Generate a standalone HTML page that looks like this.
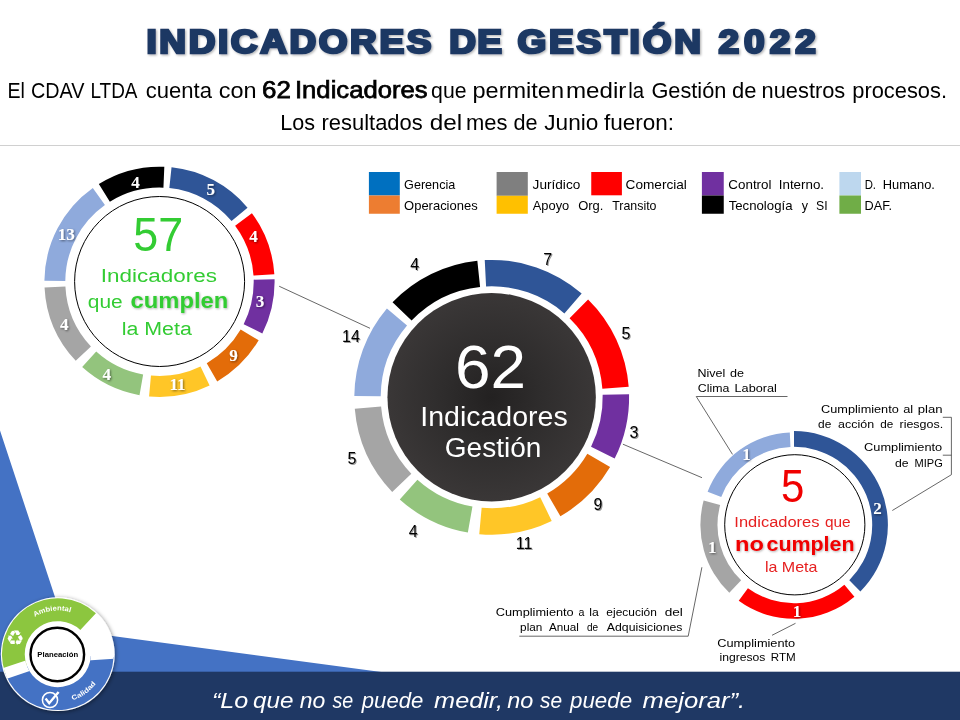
<!DOCTYPE html>
<html lang="es"><head><meta charset="utf-8"><title>Indicadores de Gestión 2022</title>
<style>
html,body{margin:0;padding:0;background:#fff;}
body{width:960px;height:720px;overflow:hidden;}
svg{display:block;}
text{white-space:pre;}
</style></head><body>
<svg width="960" height="720" viewBox="0 0 960 720">
<defs>
<radialGradient id="dark" cx="50%" cy="50%" r="50%"><stop offset="0" stop-color="#232121"/><stop offset="0.45" stop-color="#2E2C2C"/><stop offset="1" stop-color="#3A3737"/></radialGradient>
<filter id="tsh" x="-5%" y="-20%" width="110%" height="150%"><feDropShadow dx="1.2" dy="1.2" stdDeviation="1.0" flood-color="#000" flood-opacity="0.3"/></filter>
<filter id="lsh" x="-50%" y="-50%" width="200%" height="200%"><feDropShadow dx="1" dy="1" stdDeviation="0.8" flood-color="#000" flood-opacity="0.5"/></filter>
<filter id="dsh" x="-50%" y="-50%" width="200%" height="200%"><feDropShadow dx="1" dy="1" stdDeviation="0.7" flood-color="#000" flood-opacity="0.4"/></filter>
<filter id="gsh" x="-10%" y="-30%" width="120%" height="170%"><feDropShadow dx="0.8" dy="0.8" stdDeviation="0.8" flood-color="#000" flood-opacity="0.35"/></filter>
<filter id="logosh" x="-20%" y="-20%" width="140%" height="140%"><feDropShadow dx="1" dy="1" stdDeviation="2" flood-color="#000" flood-opacity="0.45"/></filter>
</defs>
<polygon points="0,430.5 65.8,629.8 385,672.5 0,672.5" fill="#4472C4"/>
<rect x="0" y="671.7" width="960" height="48.3" fill="#1F3864"/>
<line x1="0" y1="145.5" x2="960" y2="145.5" stroke="#D0D0D0" stroke-width="1"/>
<g filter="url(#tsh)">
<text transform="translate(146.46 53.3) scale(1.12 1)" x="0" y="0" font-family="'Liberation Sans', sans-serif" font-size="33" font-weight="bold" fill="#1F3864" stroke="#1F3864" stroke-width="2.6" stroke-linejoin="miter" textLength="254.36" lengthAdjust="spacing">INDICADORES</text>
<text transform="translate(449.26 53.3) scale(1.12 1)" x="0" y="0" font-family="'Liberation Sans', sans-serif" font-size="33" font-weight="bold" fill="#1F3864" stroke="#1F3864" stroke-width="2.6" stroke-linejoin="miter" textLength="47.08" lengthAdjust="spacing">DE</text>
<text transform="translate(517.48 53.3) scale(1.12 1)" x="0" y="0" font-family="'Liberation Sans', sans-serif" font-size="33" font-weight="bold" fill="#1F3864" stroke="#1F3864" stroke-width="2.6" stroke-linejoin="miter" textLength="163.91" lengthAdjust="spacing">GESTIÓN</text>
<text transform="translate(718.46 53.3) scale(1.12 1)" x="0" y="0" font-family="'Liberation Sans', sans-serif" font-size="33" font-weight="bold" fill="#1F3864" stroke="#1F3864" stroke-width="2.6" stroke-linejoin="miter" textLength="86.92" lengthAdjust="spacing">2022</text>
</g>
<text x="7.38" y="97.5" font-family="'Liberation Sans', sans-serif" font-size="22.4" fill="#000" text-anchor="start" font-weight="normal" font-style="normal" textLength="17.42" lengthAdjust="spacingAndGlyphs">El</text>
<text x="31.01" y="97.5" font-family="'Liberation Sans', sans-serif" font-size="22.4" fill="#000" text-anchor="start" font-weight="normal" font-style="normal" textLength="53.57" lengthAdjust="spacingAndGlyphs">CDAV</text>
<text x="90.43" y="97.5" font-family="'Liberation Sans', sans-serif" font-size="22.4" fill="#000" text-anchor="start" font-weight="normal" font-style="normal" textLength="47.1" lengthAdjust="spacingAndGlyphs">LTDA</text>
<text x="145.76" y="97.5" font-family="'Liberation Sans', sans-serif" font-size="22.4" fill="#000" text-anchor="start" font-weight="normal" font-style="normal" textLength="66.18" lengthAdjust="spacingAndGlyphs">cuenta</text>
<text x="218.7" y="97.5" font-family="'Liberation Sans', sans-serif" font-size="22.4" fill="#000" text-anchor="start" font-weight="normal" font-style="normal" textLength="37.82" lengthAdjust="spacingAndGlyphs">con</text>
<text x="431.1" y="97.5" font-family="'Liberation Sans', sans-serif" font-size="22.4" fill="#000" text-anchor="start" font-weight="normal" font-style="normal" textLength="35.43" lengthAdjust="spacingAndGlyphs">que</text>
<text x="472.47" y="97.5" font-family="'Liberation Sans', sans-serif" font-size="22.4" fill="#000" text-anchor="start" font-weight="normal" font-style="normal" textLength="91.52" lengthAdjust="spacingAndGlyphs">permiten</text>
<text x="565.93" y="97.5" font-family="'Liberation Sans', sans-serif" font-size="22.4" fill="#000" text-anchor="start" font-weight="normal" font-style="normal" textLength="60.45" lengthAdjust="spacingAndGlyphs">medir</text>
<text x="628.13" y="97.5" font-family="'Liberation Sans', sans-serif" font-size="22.4" fill="#000" text-anchor="start" font-weight="normal" font-style="normal" textLength="15.84" lengthAdjust="spacingAndGlyphs">la</text>
<text x="651.41" y="97.5" font-family="'Liberation Sans', sans-serif" font-size="22.4" fill="#000" text-anchor="start" font-weight="normal" font-style="normal" textLength="74.98" lengthAdjust="spacingAndGlyphs">Gestión</text>
<text x="732.07" y="97.5" font-family="'Liberation Sans', sans-serif" font-size="22.4" fill="#000" text-anchor="start" font-weight="normal" font-style="normal" textLength="24.42" lengthAdjust="spacingAndGlyphs">de</text>
<text x="761.58" y="97.5" font-family="'Liberation Sans', sans-serif" font-size="22.4" fill="#000" text-anchor="start" font-weight="normal" font-style="normal" textLength="83.69" lengthAdjust="spacingAndGlyphs">nuestros</text>
<text x="852.28" y="97.5" font-family="'Liberation Sans', sans-serif" font-size="22.4" fill="#000" text-anchor="start" font-weight="normal" font-style="normal" textLength="94.7" lengthAdjust="spacingAndGlyphs">procesos.</text>
<text x="262.08" y="97.5" font-family="'Liberation Sans', sans-serif" font-size="24.2" fill="#000" text-anchor="start" font-weight="normal" font-style="normal" textLength="28.84" lengthAdjust="spacingAndGlyphs" stroke="#000" stroke-width="0.75">62</text>
<text x="295.0" y="97.5" font-family="'Liberation Sans', sans-serif" font-size="24.2" fill="#000" text-anchor="start" font-weight="normal" font-style="normal" textLength="132.52" lengthAdjust="spacingAndGlyphs" stroke="#000" stroke-width="0.75">Indicadores</text>
<text x="280.22" y="129.6" font-family="'Liberation Sans', sans-serif" font-size="22.4" fill="#000" text-anchor="start" font-weight="normal" font-style="normal" textLength="34.73" lengthAdjust="spacingAndGlyphs">Los</text>
<text x="321.57" y="129.6" font-family="'Liberation Sans', sans-serif" font-size="22.4" fill="#000" text-anchor="start" font-weight="normal" font-style="normal" textLength="101.17" lengthAdjust="spacingAndGlyphs">resultados</text>
<text x="429.77" y="129.6" font-family="'Liberation Sans', sans-serif" font-size="22.4" fill="#000" text-anchor="start" font-weight="normal" font-style="normal" textLength="32.46" lengthAdjust="spacingAndGlyphs">del</text>
<text x="465.97" y="129.6" font-family="'Liberation Sans', sans-serif" font-size="22.4" fill="#000" text-anchor="start" font-weight="normal" font-style="normal" textLength="41.48" lengthAdjust="spacingAndGlyphs">mes</text>
<text x="513.38" y="129.6" font-family="'Liberation Sans', sans-serif" font-size="22.4" fill="#000" text-anchor="start" font-weight="normal" font-style="normal" textLength="24.09" lengthAdjust="spacingAndGlyphs">de</text>
<text x="544.26" y="129.6" font-family="'Liberation Sans', sans-serif" font-size="22.4" fill="#000" text-anchor="start" font-weight="normal" font-style="normal" textLength="54.06" lengthAdjust="spacingAndGlyphs">Junio</text>
<text x="603.92" y="129.6" font-family="'Liberation Sans', sans-serif" font-size="22.4" fill="#000" text-anchor="start" font-weight="normal" font-style="normal" textLength="70.03" lengthAdjust="spacingAndGlyphs">fueron:</text>
<rect x="368.9" y="172" width="30.90" height="23.50" fill="#0070C0"/>
<rect x="368.9" y="195.5" width="30.90" height="18.25" fill="#ED7D31"/>
<rect x="496.6" y="172" width="31.20" height="23.80" fill="#7F7F7F"/>
<rect x="496.6" y="195.8" width="31.20" height="17.95" fill="#FFC000"/>
<rect x="591.25" y="172" width="30.65" height="23.30" fill="#FF0000"/>
<rect x="701.9" y="172" width="21.85" height="23.50" fill="#7030A0"/>
<rect x="701.9" y="195.5" width="21.85" height="18.25" fill="#000000"/>
<rect x="839.4" y="172" width="21.60" height="23.50" fill="#BDD7EE"/>
<rect x="839.4" y="195.5" width="21.60" height="18.25" fill="#70AD47"/>
<text x="404.07" y="188.75" font-family="'Liberation Sans', sans-serif" font-size="13" fill="#000" text-anchor="start" font-weight="normal" font-style="normal" textLength="51.2" lengthAdjust="spacingAndGlyphs">Gerencia</text>
<text x="404.08" y="210" font-family="'Liberation Sans', sans-serif" font-size="13" fill="#000" text-anchor="start" font-weight="normal" font-style="normal" textLength="73.57" lengthAdjust="spacingAndGlyphs">Operaciones</text>
<text x="532.6" y="188.75" font-family="'Liberation Sans', sans-serif" font-size="13" fill="#000" text-anchor="start" font-weight="normal" font-style="normal" textLength="47.67" lengthAdjust="spacingAndGlyphs">Jurídico</text>
<text x="532.77" y="210" font-family="'Liberation Sans', sans-serif" font-size="13" fill="#000" text-anchor="start" font-weight="normal" font-style="normal" textLength="36.5" lengthAdjust="spacingAndGlyphs">Apoyo</text>
<text x="578.13" y="210" font-family="'Liberation Sans', sans-serif" font-size="13" fill="#000" text-anchor="start" font-weight="normal" font-style="normal" textLength="25.23" lengthAdjust="spacingAndGlyphs">Org.</text>
<text x="612.22" y="210" font-family="'Liberation Sans', sans-serif" font-size="13" fill="#000" text-anchor="start" font-weight="normal" font-style="normal" textLength="44.28" lengthAdjust="spacingAndGlyphs">Transito</text>
<text x="625.57" y="188.75" font-family="'Liberation Sans', sans-serif" font-size="13" fill="#000" text-anchor="start" font-weight="normal" font-style="normal" textLength="61.33" lengthAdjust="spacingAndGlyphs">Comercial</text>
<text x="728.33" y="188.75" font-family="'Liberation Sans', sans-serif" font-size="13" fill="#000" text-anchor="start" font-weight="normal" font-style="normal" textLength="43.16" lengthAdjust="spacingAndGlyphs">Control</text>
<text x="778.77" y="188.75" font-family="'Liberation Sans', sans-serif" font-size="13" fill="#000" text-anchor="start" font-weight="normal" font-style="normal" textLength="45.25" lengthAdjust="spacingAndGlyphs">Interno.</text>
<text x="728.7" y="210" font-family="'Liberation Sans', sans-serif" font-size="13" fill="#000" text-anchor="start" font-weight="normal" font-style="normal" textLength="63.79" lengthAdjust="spacingAndGlyphs">Tecnología</text>
<text x="801.87" y="210" font-family="'Liberation Sans', sans-serif" font-size="13" fill="#000" text-anchor="start" font-weight="normal" font-style="normal" textLength="6.26" lengthAdjust="spacingAndGlyphs">y</text>
<text x="816.05" y="210" font-family="'Liberation Sans', sans-serif" font-size="13" fill="#000" text-anchor="start" font-weight="normal" font-style="normal" textLength="11.58" lengthAdjust="spacingAndGlyphs">SI</text>
<text x="864.66" y="188.75" font-family="'Liberation Sans', sans-serif" font-size="13" fill="#000" text-anchor="start" font-weight="normal" font-style="normal" textLength="11.36" lengthAdjust="spacingAndGlyphs">D.</text>
<text x="882.69" y="188.75" font-family="'Liberation Sans', sans-serif" font-size="13" fill="#000" text-anchor="start" font-weight="normal" font-style="normal" textLength="52.22" lengthAdjust="spacingAndGlyphs">Humano.</text>
<text x="864.55" y="210" font-family="'Liberation Sans', sans-serif" font-size="13" fill="#000" text-anchor="start" font-weight="normal" font-style="normal" textLength="27.59" lengthAdjust="spacingAndGlyphs">DAF.</text>
<line x1="279.2" y1="286.25" x2="370" y2="328.3" stroke="#404040" stroke-width="0.8" fill="none"/>
<line x1="622.9" y1="444.2" x2="702" y2="477.7" stroke="#404040" stroke-width="0.8" fill="none"/>
<path d="M171.53 167.33A115.1 115.1 0 0 1 247.54 207.66L231.56 221.12A94.2 94.2 0 0 0 169.35 188.12Z" fill="#2F5597"/>
<path d="M251.90 213.17A115.1 115.1 0 0 1 274.35 274.17L253.49 275.56A94.2 94.2 0 0 0 235.13 225.64Z" fill="#FF0000"/>
<path d="M274.57 279.19A115.1 115.1 0 0 1 262.33 333.52L243.66 324.13A94.2 94.2 0 0 0 253.68 279.66Z" fill="#7030A0"/>
<path d="M258.67 340.22A115.1 115.1 0 0 1 217.22 381.38L206.74 363.30A94.2 94.2 0 0 0 240.67 329.61Z" fill="#E36C09"/>
<path d="M209.60 385.43A115.1 115.1 0 0 1 149.07 396.43L150.96 375.61A94.2 94.2 0 0 0 200.50 366.61Z" fill="#FFC627"/>
<path d="M139.51 395.15A115.1 115.1 0 0 1 82.18 367.07L96.22 351.58A94.2 94.2 0 0 0 143.14 374.57Z" fill="#93C47D"/>
<path d="M75.73 360.74A115.1 115.1 0 0 1 44.54 287.42L65.41 286.40A94.2 94.2 0 0 0 90.94 346.40Z" fill="#A5A5A5"/>
<path d="M44.40 280.80A115.1 115.1 0 0 1 92.82 187.98L104.93 205.01A94.2 94.2 0 0 0 65.30 280.98Z" fill="#8FAADC"/>
<path d="M98.85 183.98A115.1 115.1 0 0 1 164.32 166.80L163.44 187.68A94.2 94.2 0 0 0 109.86 201.74Z" fill="#000000"/>
<circle cx="159.6" cy="281.5" r="85" fill="#fff" stroke="#000" stroke-width="1"/>
<text x="210.8" y="194.95" font-family="'Liberation Serif', serif" font-size="17" fill="#fff" text-anchor="middle" font-weight="bold" font-style="normal" filter="url(#lsh)">5</text>
<text x="253.5" y="242.0" font-family="'Liberation Serif', serif" font-size="17" fill="#fff" text-anchor="middle" font-weight="bold" font-style="normal" filter="url(#lsh)">4</text>
<text x="260.1" y="306.65" font-family="'Liberation Serif', serif" font-size="17" fill="#fff" text-anchor="middle" font-weight="bold" font-style="normal" filter="url(#lsh)">3</text>
<text x="233.4" y="360.95" font-family="'Liberation Serif', serif" font-size="17" fill="#fff" text-anchor="middle" font-weight="bold" font-style="normal" filter="url(#lsh)">9</text>
<text x="177.6" y="389.95" font-family="'Liberation Serif', serif" font-size="17" fill="#fff" text-anchor="middle" font-weight="bold" font-style="normal" filter="url(#lsh)">11</text>
<text x="106.7" y="380.45" font-family="'Liberation Serif', serif" font-size="17" fill="#fff" text-anchor="middle" font-weight="bold" font-style="normal" filter="url(#lsh)">4</text>
<text x="64.2" y="330.45" font-family="'Liberation Serif', serif" font-size="17" fill="#fff" text-anchor="middle" font-weight="bold" font-style="normal" filter="url(#lsh)">4</text>
<text x="66.2" y="240.35" font-family="'Liberation Serif', serif" font-size="17" fill="#fff" text-anchor="middle" font-weight="bold" font-style="normal" filter="url(#lsh)">13</text>
<text x="135.4" y="188.15" font-family="'Liberation Serif', serif" font-size="17" fill="#fff" text-anchor="middle" font-weight="bold" font-style="normal" filter="url(#lsh)">4</text>
<text x="133.2" y="251.4" font-family="'Liberation Sans', sans-serif" font-size="47.2" fill="#33CC33" text-anchor="start" font-weight="normal" font-style="normal" textLength="49.93" lengthAdjust="spacingAndGlyphs">57</text>
<text x="100.82" y="281.8" font-family="'Liberation Sans', sans-serif" font-size="19.2" fill="#33CC33" text-anchor="start" font-weight="normal" font-style="normal" textLength="116.06" lengthAdjust="spacingAndGlyphs">Indicadores</text>
<text x="87.81" y="308" font-family="'Liberation Sans', sans-serif" font-size="19.2" fill="#33CC33" text-anchor="start" font-weight="normal" font-style="normal" textLength="34.9" lengthAdjust="spacingAndGlyphs">que</text>
<text x="130.61" y="308" font-family="'Liberation Sans', sans-serif" font-size="22.5" fill="#33CC33" text-anchor="start" font-weight="bold" font-style="normal" textLength="97.66" lengthAdjust="spacingAndGlyphs" filter="url(#gsh)">cumplen</text>
<text x="121.76" y="334.9" font-family="'Liberation Sans', sans-serif" font-size="19.2" fill="#33CC33" text-anchor="start" font-weight="normal" font-style="normal" textLength="70.03" lengthAdjust="spacingAndGlyphs">la Meta</text>
<path d="M484.75 260.08A137.4 137.4 0 0 1 581.66 293.45L564.38 313.40A111 111 0 0 0 486.08 286.44Z" fill="#2F5597"/>
<path d="M588.09 299.38A137.4 137.4 0 0 1 628.70 386.76L602.37 388.78A111 111 0 0 0 569.57 318.20Z" fill="#FF0000"/>
<path d="M629.06 394.18A137.4 137.4 0 0 1 614.66 458.61L591.04 446.83A111 111 0 0 0 602.67 394.78Z" fill="#7030A0"/>
<path d="M610.09 467.04A137.4 137.4 0 0 1 560.40 516.29L547.20 493.43A111 111 0 0 0 587.34 453.64Z" fill="#E36C09"/>
<path d="M551.72 520.90A137.4 137.4 0 0 1 479.25 534.13L481.64 507.84A111 111 0 0 0 540.18 497.15Z" fill="#FFC627"/>
<path d="M467.84 532.61A137.4 137.4 0 0 1 399.76 499.41L417.43 479.79A111 111 0 0 0 472.43 506.61Z" fill="#93C47D"/>
<path d="M392.20 492.05A137.4 137.4 0 0 1 354.78 408.80L381.09 406.59A111 111 0 0 0 411.32 473.85Z" fill="#A5A5A5"/>
<path d="M354.31 396.10A137.4 137.4 0 0 1 386.91 308.43L407.04 325.51A111 111 0 0 0 380.70 396.33Z" fill="#8FAADC"/>
<path d="M392.53 302.20A137.4 137.4 0 0 1 477.34 260.65L480.10 286.91A111 111 0 0 0 411.58 320.47Z" fill="#000000"/>
<circle cx="491.65" cy="397.25" r="104.2" fill="url(#dark)"/>
<text x="455.0" y="388.4" font-family="'Liberation Sans', sans-serif" font-size="62" fill="#fff" text-anchor="start" font-weight="normal" font-style="normal" textLength="71.08" lengthAdjust="spacingAndGlyphs">62</text>
<text x="420.26" y="426.2" font-family="'Liberation Sans', sans-serif" font-size="26.8" fill="#fff" text-anchor="start" font-weight="normal" font-style="normal" textLength="147.44" lengthAdjust="spacingAndGlyphs">Indicadores</text>
<text x="444.8" y="457.1" font-family="'Liberation Sans', sans-serif" font-size="26.8" fill="#fff" text-anchor="start" font-weight="normal" font-style="normal" textLength="96.59" lengthAdjust="spacingAndGlyphs">Gestión</text>
<text x="547.8" y="264.53" font-family="'Liberation Sans', sans-serif" font-size="16" fill="#000" text-anchor="middle" font-weight="normal" font-style="normal" filter="url(#dsh)">7</text>
<text x="626" y="338.53" font-family="'Liberation Sans', sans-serif" font-size="16" fill="#000" text-anchor="middle" font-weight="normal" font-style="normal" filter="url(#dsh)">5</text>
<text x="633.9" y="438.23" font-family="'Liberation Sans', sans-serif" font-size="16" fill="#000" text-anchor="middle" font-weight="normal" font-style="normal" filter="url(#dsh)">3</text>
<text x="598" y="510.03" font-family="'Liberation Sans', sans-serif" font-size="16" fill="#000" text-anchor="middle" font-weight="normal" font-style="normal" filter="url(#dsh)">9</text>
<text x="524.1" y="548.93" font-family="'Liberation Sans', sans-serif" font-size="16" fill="#000" text-anchor="middle" font-weight="normal" font-style="normal" filter="url(#dsh)">11</text>
<text x="413.1" y="537.03" font-family="'Liberation Sans', sans-serif" font-size="16" fill="#000" text-anchor="middle" font-weight="normal" font-style="normal" filter="url(#dsh)">4</text>
<text x="352" y="463.93" font-family="'Liberation Sans', sans-serif" font-size="16" fill="#000" text-anchor="middle" font-weight="normal" font-style="normal" filter="url(#dsh)">5</text>
<text x="350.9" y="342.23" font-family="'Liberation Sans', sans-serif" font-size="16" fill="#000" text-anchor="middle" font-weight="normal" font-style="normal" filter="url(#dsh)">14</text>
<text x="414.8" y="270.03" font-family="'Liberation Sans', sans-serif" font-size="16" fill="#000" text-anchor="middle" font-weight="normal" font-style="normal" filter="url(#dsh)">4</text>
<path d="M794.00 431.10A93.9 93.9 0 0 1 860.40 591.40L849.30 580.30A78.2 78.2 0 0 0 794.00 446.80Z" fill="#2F5597"/>
<path d="M854.42 596.75A93.8 93.8 0 0 1 738.73 600.79L747.92 588.18A78.2 78.2 0 0 0 844.37 584.82Z" fill="#FF0000"/>
<path d="M729.33 592.67A93.6 93.6 0 0 1 703.63 500.62L720.14 505.07A76.5 76.5 0 0 0 741.15 580.31Z" fill="#A5A5A5"/>
<path d="M707.61 491.66A92.6 92.6 0 0 1 789.80 432.50L790.46 447.08A78 78 0 0 0 721.23 496.92Z" fill="#8FAADC"/>
<circle cx="794.8" cy="524.8" r="70.1" fill="#fff" stroke="#000" stroke-width="1"/>
<text x="877.5" y="513.85" font-family="'Liberation Serif', serif" font-size="17" fill="#fff" text-anchor="middle" font-weight="bold" font-style="normal" filter="url(#lsh)">2</text>
<text x="797" y="616.75" font-family="'Liberation Serif', serif" font-size="17" fill="#fff" text-anchor="middle" font-weight="bold" font-style="normal" filter="url(#lsh)">1</text>
<text x="712.3" y="553.25" font-family="'Liberation Serif', serif" font-size="17" fill="#fff" text-anchor="middle" font-weight="bold" font-style="normal" filter="url(#lsh)">1</text>
<text x="746.4" y="460.25" font-family="'Liberation Serif', serif" font-size="17" fill="#fff" text-anchor="middle" font-weight="bold" font-style="normal" filter="url(#lsh)">1</text>
<text x="781.12" y="502" font-family="'Liberation Sans', sans-serif" font-size="47" fill="#F00000" text-anchor="start" font-weight="normal" font-style="normal" textLength="23.3" lengthAdjust="spacingAndGlyphs">5</text>
<text x="734.38" y="527.2" font-family="'Liberation Sans', sans-serif" font-size="14" fill="#E62020" text-anchor="start" font-weight="normal" font-style="normal" textLength="85.1" lengthAdjust="spacingAndGlyphs">Indicadores</text>
<text x="824.94" y="527.2" font-family="'Liberation Sans', sans-serif" font-size="14" fill="#E62020" text-anchor="start" font-weight="normal" font-style="normal" textLength="25.73" lengthAdjust="spacingAndGlyphs">que</text>
<text x="735.06" y="550.7" font-family="'Liberation Sans', sans-serif" font-size="20.8" fill="#F00000" text-anchor="start" font-weight="bold" font-style="normal" textLength="28.86" lengthAdjust="spacingAndGlyphs" filter="url(#gsh)">no</text>
<text x="766.5" y="550.7" font-family="'Liberation Sans', sans-serif" font-size="20.8" fill="#F00000" text-anchor="start" font-weight="bold" font-style="normal" textLength="88.03" lengthAdjust="spacingAndGlyphs" filter="url(#gsh)">cumplen</text>
<text x="764.92" y="572" font-family="'Liberation Sans', sans-serif" font-size="14.4" fill="#E62020" text-anchor="start" font-weight="normal" font-style="normal" textLength="52.57" lengthAdjust="spacingAndGlyphs">la Meta</text>
<text x="697.47" y="376.6" font-family="'Liberation Sans', sans-serif" font-size="11.7" fill="#000" text-anchor="start" font-weight="normal" font-style="normal" textLength="27.78" lengthAdjust="spacingAndGlyphs">Nivel</text>
<text x="730.07" y="376.6" font-family="'Liberation Sans', sans-serif" font-size="11.7" fill="#000" text-anchor="start" font-weight="normal" font-style="normal" textLength="14.0" lengthAdjust="spacingAndGlyphs">de</text>
<text x="697.88" y="391.5" font-family="'Liberation Sans', sans-serif" font-size="11.7" fill="#000" text-anchor="start" font-weight="normal" font-style="normal" textLength="31.49" lengthAdjust="spacingAndGlyphs">Clima</text>
<text x="734.55" y="391.5" font-family="'Liberation Sans', sans-serif" font-size="11.7" fill="#000" text-anchor="start" font-weight="normal" font-style="normal" textLength="42.28" lengthAdjust="spacingAndGlyphs">Laboral</text>
<polyline points="787.5,396.5 696.25,396.5 732.5,454.4" stroke="#404040" stroke-width="0.8" fill="none"/>
<text x="821.06" y="412.5" font-family="'Liberation Sans', sans-serif" font-size="11.7" fill="#000" text-anchor="start" font-weight="normal" font-style="normal" textLength="77.76" lengthAdjust="spacingAndGlyphs">Cumplimiento</text>
<text x="903.21" y="412.5" font-family="'Liberation Sans', sans-serif" font-size="11.7" fill="#000" text-anchor="start" font-weight="normal" font-style="normal" textLength="9.97" lengthAdjust="spacingAndGlyphs">al</text>
<text x="917.75" y="412.5" font-family="'Liberation Sans', sans-serif" font-size="11.7" fill="#000" text-anchor="start" font-weight="normal" font-style="normal" textLength="24.78" lengthAdjust="spacingAndGlyphs">plan</text>
<text x="818.09" y="427.5" font-family="'Liberation Sans', sans-serif" font-size="11.7" fill="#000" text-anchor="start" font-weight="normal" font-style="normal" textLength="13.24" lengthAdjust="spacingAndGlyphs">de</text>
<text x="838.07" y="427.5" font-family="'Liberation Sans', sans-serif" font-size="11.7" fill="#000" text-anchor="start" font-weight="normal" font-style="normal" textLength="36.02" lengthAdjust="spacingAndGlyphs">acción</text>
<text x="880.3" y="427.5" font-family="'Liberation Sans', sans-serif" font-size="11.7" fill="#000" text-anchor="start" font-weight="normal" font-style="normal" textLength="13.02" lengthAdjust="spacingAndGlyphs">de</text>
<text x="899.49" y="427.5" font-family="'Liberation Sans', sans-serif" font-size="11.7" fill="#000" text-anchor="start" font-weight="normal" font-style="normal" textLength="43.65" lengthAdjust="spacingAndGlyphs">riesgos.</text>
<text x="864.06" y="451.25" font-family="'Liberation Sans', sans-serif" font-size="11.7" fill="#000" text-anchor="start" font-weight="normal" font-style="normal" textLength="78.16" lengthAdjust="spacingAndGlyphs">Cumplimiento</text>
<text x="895.08" y="466.6" font-family="'Liberation Sans', sans-serif" font-size="11.7" fill="#000" text-anchor="start" font-weight="normal" font-style="normal" textLength="13.57" lengthAdjust="spacingAndGlyphs">de</text>
<text x="914.59" y="466.6" font-family="'Liberation Sans', sans-serif" font-size="11.7" fill="#000" text-anchor="start" font-weight="normal" font-style="normal" textLength="28.25" lengthAdjust="spacingAndGlyphs">MIPG</text>
<polyline points="942.8,417.3 951.4,417.3 951.4,474.7 892.3,510.5" stroke="#404040" stroke-width="0.8" fill="none"/>
<line x1="942.8" y1="455.2" x2="951.4" y2="455.2" stroke="#404040" stroke-width="0.8" fill="none"/>
<text x="495.76" y="616.1" font-family="'Liberation Sans', sans-serif" font-size="11.7" fill="#000" text-anchor="start" font-weight="normal" font-style="normal" textLength="77.96" lengthAdjust="spacingAndGlyphs">Cumplimiento</text>
<text x="578.45" y="616.1" font-family="'Liberation Sans', sans-serif" font-size="11.7" fill="#000" text-anchor="start" font-weight="normal" font-style="normal" textLength="5.94" lengthAdjust="spacingAndGlyphs">a</text>
<text x="589.28" y="616.1" font-family="'Liberation Sans', sans-serif" font-size="11.7" fill="#000" text-anchor="start" font-weight="normal" font-style="normal" textLength="9.5" lengthAdjust="spacingAndGlyphs">la</text>
<text x="606.39" y="616.1" font-family="'Liberation Sans', sans-serif" font-size="11.7" fill="#000" text-anchor="start" font-weight="normal" font-style="normal" textLength="50.46" lengthAdjust="spacingAndGlyphs">ejecución</text>
<text x="664.72" y="616.1" font-family="'Liberation Sans', sans-serif" font-size="11.7" fill="#000" text-anchor="start" font-weight="normal" font-style="normal" textLength="18.19" lengthAdjust="spacingAndGlyphs">del</text>
<text x="520.14" y="631" font-family="'Liberation Sans', sans-serif" font-size="11.7" fill="#000" text-anchor="start" font-weight="normal" font-style="normal" textLength="22.21" lengthAdjust="spacingAndGlyphs">plan</text>
<text x="549.07" y="631" font-family="'Liberation Sans', sans-serif" font-size="11.7" fill="#000" text-anchor="start" font-weight="normal" font-style="normal" textLength="29.92" lengthAdjust="spacingAndGlyphs">Anual</text>
<text x="586.97" y="631" font-family="'Liberation Sans', sans-serif" font-size="11.7" fill="#000" text-anchor="start" font-weight="normal" font-style="normal" textLength="11.18" lengthAdjust="spacingAndGlyphs">de</text>
<text x="606.87" y="631" font-family="'Liberation Sans', sans-serif" font-size="11.7" fill="#000" text-anchor="start" font-weight="normal" font-style="normal" textLength="75.57" lengthAdjust="spacingAndGlyphs">Adquisiciones</text>
<polyline points="519.3,636.2 688.2,636.2 701.9,567.25" stroke="#404040" stroke-width="0.8" fill="none"/>
<text x="717.16" y="646.7" font-family="'Liberation Sans', sans-serif" font-size="11.7" fill="#000" text-anchor="start" font-weight="normal" font-style="normal" textLength="78.06" lengthAdjust="spacingAndGlyphs">Cumplimiento</text>
<text x="719.48" y="661.3" font-family="'Liberation Sans', sans-serif" font-size="11.7" fill="#000" text-anchor="start" font-weight="normal" font-style="normal" textLength="45.94" lengthAdjust="spacingAndGlyphs">ingresos</text>
<text x="770.74" y="661.3" font-family="'Liberation Sans', sans-serif" font-size="11.7" fill="#000" text-anchor="start" font-weight="normal" font-style="normal" textLength="24.89" lengthAdjust="spacingAndGlyphs">RTM</text>
<line x1="772" y1="635.3" x2="795.5" y2="623.3" stroke="#404040" stroke-width="0.8" fill="none"/>
<text x="211.93" y="707.5" font-family="'Liberation Sans', sans-serif" font-size="22.6" fill="#fff" text-anchor="start" font-weight="normal" font-style="italic" textLength="36.34" lengthAdjust="spacingAndGlyphs">“Lo</text>
<text x="252.96" y="707.5" font-family="'Liberation Sans', sans-serif" font-size="22.6" fill="#fff" text-anchor="start" font-weight="normal" font-style="italic" textLength="40.41" lengthAdjust="spacingAndGlyphs">que</text>
<text x="299.65" y="707.5" font-family="'Liberation Sans', sans-serif" font-size="22.6" fill="#fff" text-anchor="start" font-weight="normal" font-style="italic" textLength="25.59" lengthAdjust="spacingAndGlyphs">no</text>
<text x="332.45" y="707.5" font-family="'Liberation Sans', sans-serif" font-size="22.6" fill="#fff" text-anchor="start" font-weight="normal" font-style="italic" textLength="20.76" lengthAdjust="spacingAndGlyphs">se</text>
<text x="361.8" y="707.5" font-family="'Liberation Sans', sans-serif" font-size="22.6" fill="#fff" text-anchor="start" font-weight="normal" font-style="italic" textLength="61.49" lengthAdjust="spacingAndGlyphs">puede</text>
<text x="434.12" y="707.5" font-family="'Liberation Sans', sans-serif" font-size="22.6" fill="#fff" text-anchor="start" font-weight="normal" font-style="italic" textLength="68.8" lengthAdjust="spacingAndGlyphs">medir,</text>
<text x="507.15" y="707.5" font-family="'Liberation Sans', sans-serif" font-size="22.6" fill="#fff" text-anchor="start" font-weight="normal" font-style="italic" textLength="26.11" lengthAdjust="spacingAndGlyphs">no</text>
<text x="539.95" y="707.5" font-family="'Liberation Sans', sans-serif" font-size="22.6" fill="#fff" text-anchor="start" font-weight="normal" font-style="italic" textLength="22.06" lengthAdjust="spacingAndGlyphs">se</text>
<text x="570.06" y="707.5" font-family="'Liberation Sans', sans-serif" font-size="22.6" fill="#fff" text-anchor="start" font-weight="normal" font-style="italic" textLength="61.99" lengthAdjust="spacingAndGlyphs">puede</text>
<text x="642.62" y="707.5" font-family="'Liberation Sans', sans-serif" font-size="22.6" fill="#fff" text-anchor="start" font-weight="normal" font-style="italic" textLength="102.54" lengthAdjust="spacingAndGlyphs">mejorar”.</text>
<circle cx="57.8" cy="654.2" r="56.9" fill="#fff" filter="url(#logosh)"/>
<clipPath id="ringclip"><path d="M57.80 598.30A55.9 55.9 0 1 1 57.79 598.30L57.79 621.20A33 33 0 1 0 57.80 621.20Z"/></clipPath>
<path d="M5.27 673.32A55.9 55.9 0 0 1 95.92 613.32L80.31 630.07A33 33 0 0 0 26.79 665.49Z" fill="#8CC63F"/>
<path d="M113.62 657.13A55.9 55.9 0 0 1 5.27 673.32L26.79 665.49A33 33 0 0 0 90.75 655.93Z" fill="#4472C4"/>
<g clip-path="url(#ringclip)">
<polygon points="-5,670.83 40,655.7 40,667.6 -5,682.7" fill="#fff"/>
<polygon points="80,640 125,640 125,658.0 80,661.0" fill="#fff"/>
</g>
<circle cx="57.3" cy="654.5" r="26.8" fill="#fff" stroke="#000" stroke-width="2.4"/>
<text x="37.38" y="657" font-family="'Liberation Sans', sans-serif" font-size="7.6" fill="#000" text-anchor="start" font-weight="bold" font-style="normal" textLength="40.78" lengthAdjust="spacingAndGlyphs">Planeación</text>
<path id="arcA" d="M25.51 624.61A43.8 43.8 0 0 1 81.33 617.26" fill="none"/>
<path id="arcC" d="M66.19 701.77A48.3 48.3 0 0 0 99.63 678.35" fill="none"/>
<text font-family="'Liberation Sans', sans-serif" font-size="7" font-weight="bold" fill="#fff"><textPath href="#arcA" startOffset="50%" text-anchor="middle" textLength="37" lengthAdjust="spacingAndGlyphs">Ambiental</textPath></text>
<text font-family="'Liberation Sans', sans-serif" font-size="6.6" font-weight="bold" fill="#fff"><textPath href="#arcC" startOffset="50%" text-anchor="middle" textLength="29" lengthAdjust="spacingAndGlyphs">Calidad</textPath></text>
<text x="15.2" y="645" font-family="'DejaVu Sans', sans-serif" font-size="20.5" fill="#fff" text-anchor="middle">&#x267B;&#xFE0E;</text>
<circle cx="50" cy="700" r="7.6" fill="none" stroke="#fff" stroke-width="1.5"/>
<polyline points="45.6,698.6 49.2,703.2 58.6,692" fill="none" stroke="#fff" stroke-width="2.4" stroke-linejoin="miter"/>
</svg>
</body></html>
